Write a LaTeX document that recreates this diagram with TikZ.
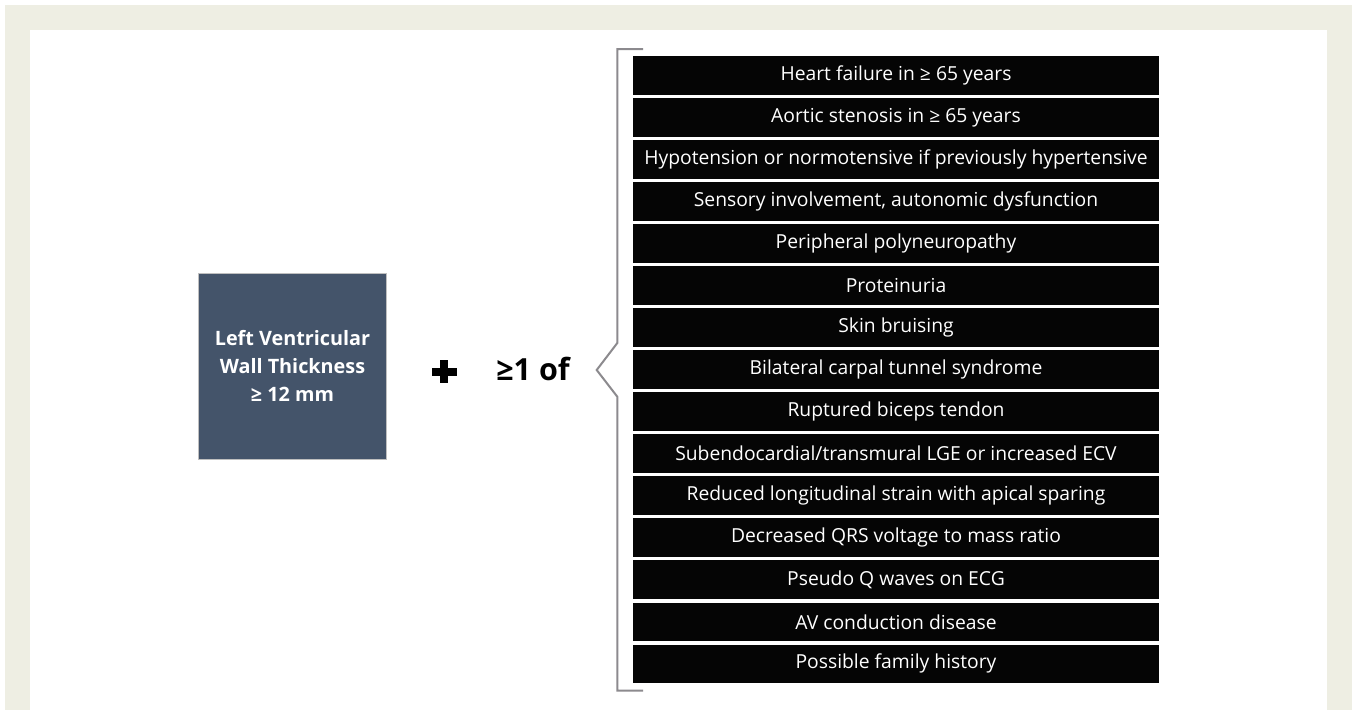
\documentclass[tikz,border=0pt]{standalone}
\usepackage{fontspec}
\setmainfont{Open Sans}
\usetikzlibrary{calc}
\definecolor{beige}{RGB}{238,238,227}
\definecolor{slate}{RGB}{68,84,106}
\definecolor{brk}{RGB}{140,138,142}
\begin{document}
\begin{tikzpicture}[x=1pt,y=-1pt,
  bar/.style={fill=black!98, text=white, minimum width=526pt, minimum height=38.7pt, inner sep=0pt, font=\fontsize{19.3}{22}\selectfont},
  lvbox/.style={fill=slate, draw=black!25, line width=0.6pt, text=white, minimum width=188.4pt, minimum height=185.7pt, inner sep=0pt, align=center, font=\fontsize{19.8}{28}\selectfont\bfseries},
  bracket/.style={draw=brk, line width=2pt}]
\useasboundingbox (0,0) rectangle (1354,710);
\fill[white] (0,0) rectangle (1354,710);
\fill[beige] (5,5) rectangle (1352,710);
\fill[white] (30,30) rectangle (1327,710);
\node[lvbox] (lv) at (292.5,366.2) {Left Ventricular\\Wall Thickness\\≥ 12 mm};
\node[minimum size=25pt, inner sep=0pt] (plus) at (444.2,371.7) {};
\fill[black] ($(plus.center)+(-12.5,-4)$) rectangle ($(plus.center)+(12.5,4)$);
\fill[black] ($(plus.center)+(-4,-11.7)$) rectangle ($(plus.center)+(4,11.7)$);
\node[font=\fontsize{30.5}{33}\selectfont\bfseries, inner sep=0pt, anchor=base] (one) at (533,380) {≥1 of};
\draw[bracket] (643,49) -- (617.3,49) -- (617.3,343) -- (596.7,370) -- (617.3,396.7) -- (617.3,690.7) -- (643,690.7);
\foreach \t [count=\i from 0] in {Heart failure in ≥ 65 years, Aortic stenosis in ≥ 65 years, Hypotension or normotensive if previously hypertensive, {Sensory involvement, autonomic dysfunction}, Peripheral polyneuropathy, Proteinuria, Skin bruising, Bilateral carpal tunnel syndrome, Ruptured biceps tendon, Subendocardial/transmural LGE or increased ECV, Reduced longitudinal strain with apical sparing, Decreased QRS voltage to mass ratio, Pseudo Q waves on ECG, AV conduction disease, Possible family history}
  \node[bar] (b\i) at (896, 75.35+42.04*\i) {\t};
\end{tikzpicture}
\end{document}
